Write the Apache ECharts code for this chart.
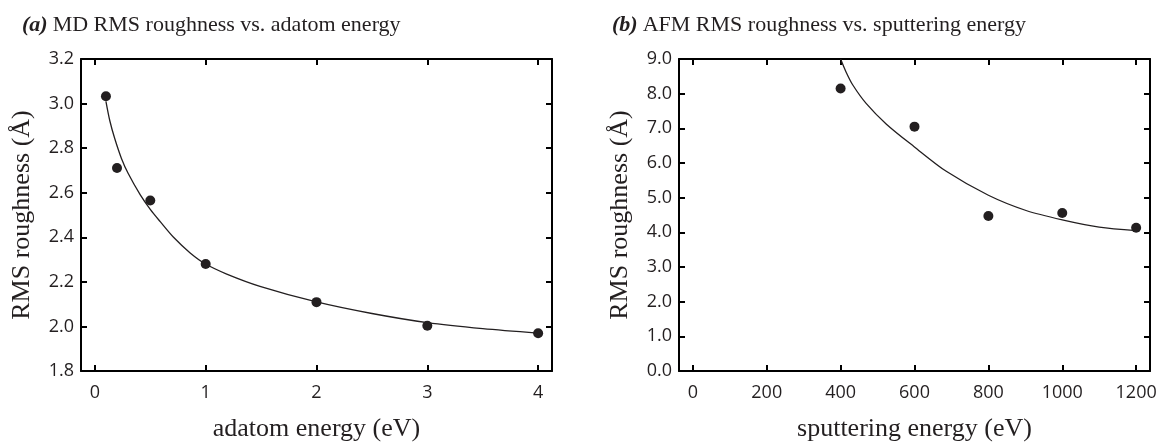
<!DOCTYPE html>
<html>
<head>
<meta charset="utf-8">
<script src="https://cdn.jsdelivr.net/npm/echarts@6/dist/echarts.min.js"></script>
<style>
html,body{margin:0;padding:0;background:#fff;}
#chart{width:1171px;height:447px;}
</style>
</head>
<body>
<div id="chart"></div>
<script>
// Panel (a): MD RMS roughness vs adatom energy
const aEnergy = [0.1, 0.2, 0.5, 1, 2, 3, 4];
const aRoughness = [3.033, 2.711, 2.565, 2.28, 2.109, 2.003, 1.969];
const aFitEnergy = [0.1, 0.135, 0.18, 0.24, 0.30, 0.41, 0.5, 0.59, 0.71, 0.86, 1.0, 1.19, 1.49, 2.0, 2.5, 3.0, 3.5, 4.0];
const aFitRoughness = [3.01, 2.923, 2.842, 2.754, 2.687, 2.59, 2.525, 2.47, 2.40, 2.33, 2.28, 2.235, 2.18, 2.11, 2.058, 2.017, 1.99, 1.97];
const aXTicks = [0, 1, 2, 3, 4];

// Panel (b): AFM RMS roughness vs sputtering energy
const bEnergy = [400, 600, 800, 1000, 1200];
const bRoughness = [8.148, 7.049, 4.473, 4.559, 4.133];
const bFitEnergy = [400, 415, 433, 469, 524, 599, 686, 800, 902, 1000, 1100, 1200];
const bFitRoughness = [9.0, 8.62, 8.25, 7.72, 7.12, 6.47, 5.76, 5.07, 4.63, 4.36, 4.15, 4.05];
const bXTicks = [0, 200, 400, 600, 800, 1000, 1200];

const titleA = ['(a)', 'MD RMS roughness vs. adatom energy'];
const titleB = ['(b)', 'AFM RMS roughness vs. sputtering energy'];
const xNameA = 'adatom energy (eV)';
const xNameB = 'sputtering energy (eV)';
const yName = 'RMS roughness (Å)';

const ink = '#231f20';
const tickFont = { fontFamily: 'Open Sans', fontSize: 18, color: ink };
const nameFont = { fontFamily: 'Liberation Serif', fontSize: 26, color: ink };

function pair(xs, ys) { return xs.map((x, i) => [x, ys[i]]); }

function xAxes(grid, min, max, ticks, name) {
  return [
    {
      type: 'value', gridIndex: grid, position: 'bottom', min: min, max: max,
      name: name, nameLocation: 'middle', nameGap: 45, nameTextStyle: nameFont,
      axisLine: { show: true, onZero: false, lineStyle: { color: '#000', width: 2 } },
      axisTick: { show: true, inside: true, length: 6, customValues: ticks, lineStyle: { color: '#000', width: 2 } },
      axisLabel: Object.assign({ show: true, margin: 13, customValues: ticks, formatter: v => String(v) }, tickFont),
      splitLine: { show: false }
    },
    {
      type: 'value', gridIndex: grid, position: 'top', min: min, max: max,
      axisLine: { show: true, onZero: false, lineStyle: { color: '#000', width: 2 } },
      axisTick: { show: true, inside: true, length: 6, customValues: ticks, lineStyle: { color: '#000', width: 2 } },
      axisLabel: { show: false },
      splitLine: { show: false }
    }
  ];
}

function yAxes(grid, min, max, interval) {
  return [
    {
      type: 'value', gridIndex: grid, position: 'left', min: min, max: max, interval: interval,
      name: yName, nameLocation: 'middle', nameGap: 46, nameTextStyle: nameFont,
      axisLine: { show: true, onZero: false, lineStyle: { color: '#000', width: 2 } },
      axisTick: { show: true, inside: true, length: 6, lineStyle: { color: '#000', width: 2 } },
      axisLabel: Object.assign({ show: true, margin: 7, formatter: v => v.toFixed(1) }, tickFont),
      splitLine: { show: false }
    },
    {
      type: 'value', gridIndex: grid, position: 'right', min: min, max: max, interval: interval,
      axisLine: { show: true, onZero: false, lineStyle: { color: '#000', width: 2 } },
      axisTick: { show: true, inside: true, length: 6, lineStyle: { color: '#000', width: 2 } },
      axisLabel: { show: false },
      splitLine: { show: false }
    }
  ];
}

function titleOf(parts, left) {
  return {
    left: left, top: 9,
    text: '{b|' + parts[0] + '} {r|' + parts[1] + '}',
    textStyle: {
      fontWeight: 'normal',
      rich: {
        b: { fontFamily: 'Liberation Serif', fontSize: 22, fontWeight: 'bold', fontStyle: 'italic', color: ink },
        r: { fontFamily: 'Liberation Serif', fontSize: 22, fontWeight: 'normal', color: ink }
      }
    }
  };
}

const chart = echarts.init(document.getElementById('chart'), null, { renderer: 'canvas' });
chart.setOption({
  animation: false,
  backgroundColor: '#fff',
  title: [titleOf(titleA, 17), titleOf(titleB, 607)],
  grid: [
    { left: 81, top: 59, width: 471, height: 317, containLabel: false },
    { left: 679, top: 59, width: 471, height: 317, containLabel: false }
  ],
  xAxis: [].concat(xAxes(0, -0.125, 4.125, aXTicks, xNameA), xAxes(1, -37.5, 1237.5, bXTicks, xNameB)),
  yAxis: [].concat(yAxes(0, 1.8, 3.2, 0.2), yAxes(1, 0, 9, 1)),
  series: [
    { type: 'line', xAxisIndex: 0, yAxisIndex: 0, data: pair(aFitEnergy, aFitRoughness), smooth: 0.3, showSymbol: false, symbol: 'none', lineStyle: { color: ink, width: 1.3 }, z: 2 },
    { type: 'scatter', xAxisIndex: 0, yAxisIndex: 0, data: pair(aEnergy, aRoughness), symbol: 'circle', symbolSize: 10, itemStyle: { color: ink, opacity: 1 }, z: 3 },
    { type: 'line', xAxisIndex: 2, yAxisIndex: 2, data: pair(bFitEnergy, bFitRoughness), smooth: 0.3, showSymbol: false, symbol: 'none', lineStyle: { color: ink, width: 1.3 }, z: 2 },
    { type: 'scatter', xAxisIndex: 2, yAxisIndex: 2, data: pair(bEnergy, bRoughness), symbol: 'circle', symbolSize: 10, itemStyle: { color: ink, opacity: 1 }, z: 3 }
  ]
});
</script>
</body>
</html>
